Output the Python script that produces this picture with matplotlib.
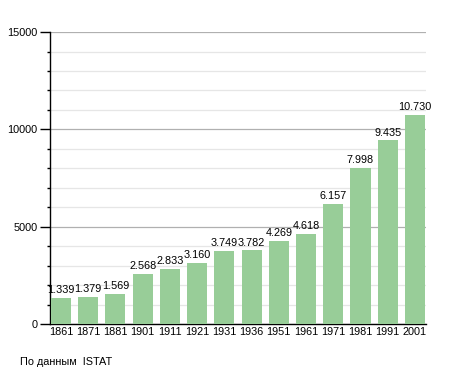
import numpy as np
import matplotlib.pyplot as plt
from matplotlib.ticker import MultipleLocator

anni = ["1861", "1871", "1881", "1901", "1911", "1921", "1931", "1936",
        "1951", "1961", "1971", "1981", "1991", "2001"]
abitanti = [1339, 1379, 1569, 2568, 2833, 3160, 3749, 3782,
            4269, 4618, 6157, 7998, 9435, 10730]

plt.rcParams['font.family'] = ['Liberation Sans', 'DejaVu Sans']

fig = plt.figure(figsize=(4.55, 3.73), dpi=100)
ax = fig.add_axes([0.11, 0.131, 0.826, 0.783])

x = np.arange(len(anni))
ax.bar(x, abitanti, width=0.74, color="#98cd98", zorder=3)
for xi, v in zip(x, abitanti):
    ax.text(xi, v + 150, f"{v/1000:.3f}", ha="center", va="bottom", fontsize=7.8, zorder=4)

ax.set_xlim(-0.4, len(anni) - 0.6)
ax.set_ylim(0, 15000)
ax.set_xticks(x)
ax.set_xticklabels(anni, fontsize=7.8)
ax.yaxis.set_major_locator(MultipleLocator(5000))
ax.yaxis.set_minor_locator(MultipleLocator(1000))
ax.tick_params(axis="y", labelsize=7.8, length=7, width=1, pad=2)
ax.tick_params(axis="y", which="minor", length=2.5, width=1)
ax.tick_params(axis="x", length=0, pad=2)
ax.grid(axis="y", which="major", color="#b0b0b0", linewidth=0.9, zorder=0)
ax.grid(axis="y", which="minor", color="#e6e6e6", linewidth=0.9, zorder=0)
for s in ["top", "right"]:
    ax.spines[s].set_visible(False)
ax.spines["left"].set_linewidth(1)
ax.spines["bottom"].set_linewidth(1)

fig.text(20/455, 1 - 362/373, "По данным  ISTAT", fontsize=7.8, va="center")

fig.savefig("out.png", dpi=100)
